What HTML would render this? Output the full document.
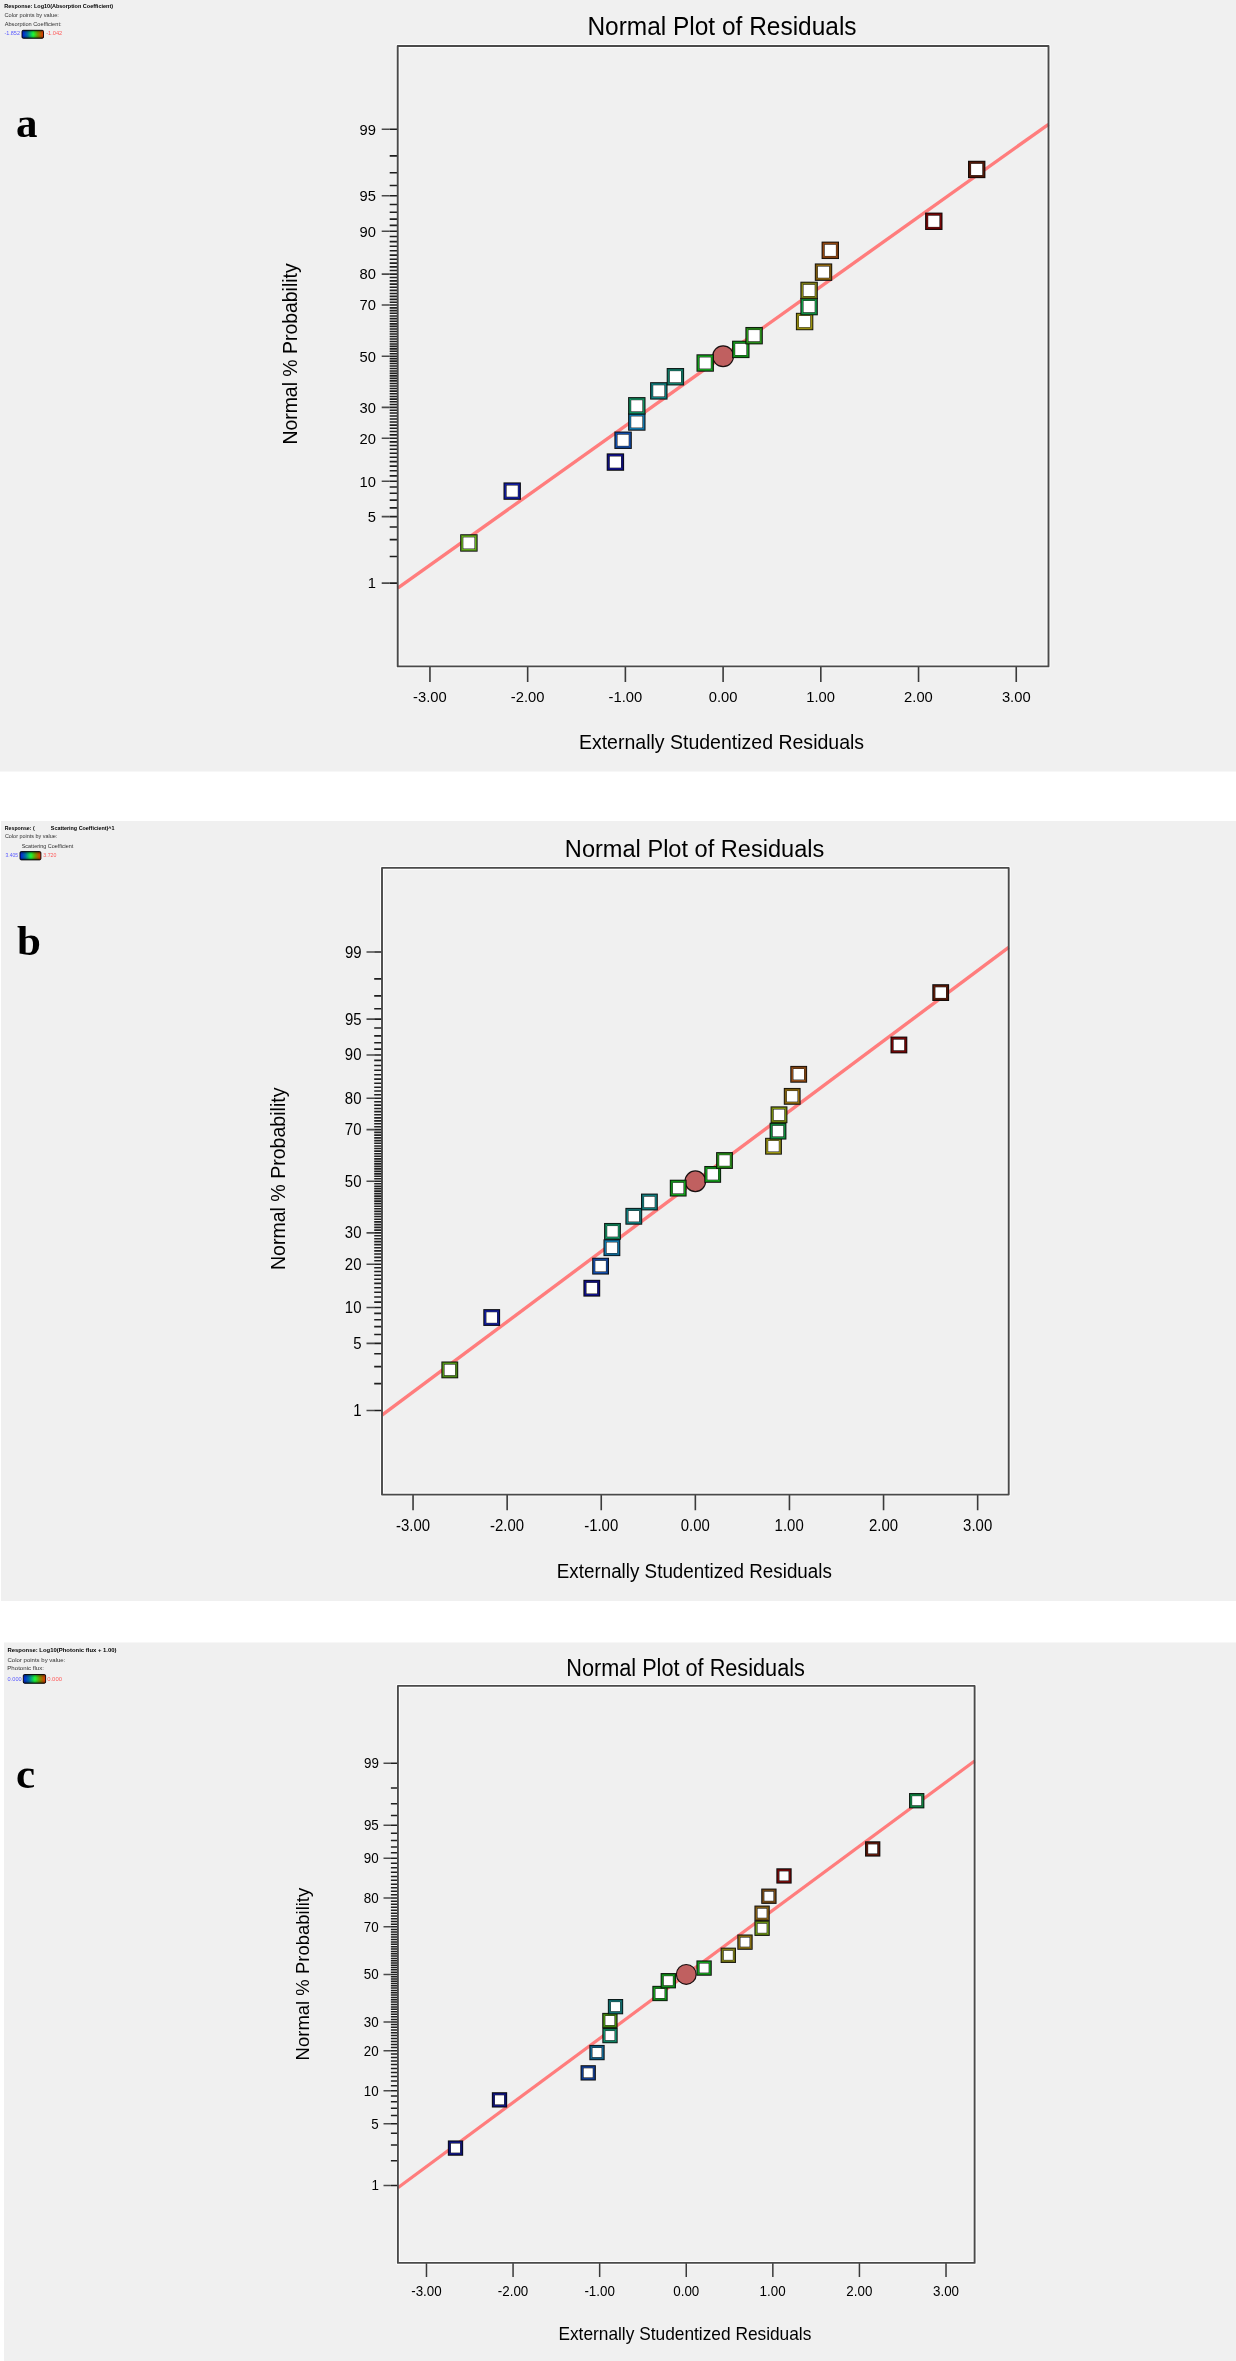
<!DOCTYPE html>
<html><head><meta charset="utf-8"><title>Normal Plot of Residuals</title>
<style>html,body{margin:0;padding:0;background:#fff;width:1236px;height:2361px;overflow:hidden}text{font-kerning:none;font-variant-ligatures:none}</style></head>
<body>
<svg width="1236" height="2361" viewBox="0 0 1236 2361" style="display:block;font-kerning:none;font-variant-ligatures:none;will-change:transform">
<defs><linearGradient id="hg" x1="0" x2="1" y1="0" y2="0"><stop offset="0" stop-color="#0018e0"/><stop offset="0.25" stop-color="#0070a8"/><stop offset="0.52" stop-color="#18ff38"/><stop offset="0.72" stop-color="#70a000"/><stop offset="1" stop-color="#f02800"/></linearGradient><linearGradient id="vg" x1="0" x2="0" y1="0" y2="1"><stop offset="0" stop-color="#000" stop-opacity="0.55"/><stop offset="0.3" stop-color="#000" stop-opacity="0.05"/><stop offset="0.55" stop-color="#000" stop-opacity="0"/><stop offset="0.75" stop-color="#000" stop-opacity="0.1"/><stop offset="1" stop-color="#000" stop-opacity="0.6"/></linearGradient></defs>
<rect x="0" y="0" width="1236" height="2361" fill="#ffffff"/>
<rect x="0" y="0" width="1236" height="771.5" fill="#f0f0f0"/>
<text transform="translate(4.33 8.30) scale(0.9717 1)" font-size="5.67" font-family='"Liberation Sans", sans-serif' font-weight="bold" fill="#000">Response: Log10(Absorption Coefficient)</text>
<text transform="translate(4.41 16.80) scale(0.9767 1)" font-size="5.81" font-family='"Liberation Sans", sans-serif' font-weight="normal" fill="#303030">Color points by value:</text>
<text transform="translate(4.69 26.40) scale(0.9982 1)" font-size="5.67" font-family='"Liberation Sans", sans-serif' font-weight="normal" fill="#303030">Absorption Coefficient:</text>
<text transform="translate(4.46 34.70) scale(1.0459 1)" font-size="5.23" font-family='"Liberation Sans", sans-serif' font-weight="normal" fill="#5a5aff">-1.852</text>
<rect x="22.00" y="30.30" width="21.50" height="8.00" rx="1.3" fill="url(#hg)" stroke="#000" stroke-width="0.9"/><rect x="22.00" y="30.30" width="21.50" height="8.00" rx="1.3" fill="url(#vg)"/>
<text transform="translate(46.15 34.70) scale(1.0808 1)" font-size="5.23" font-family='"Liberation Sans", sans-serif' font-weight="normal" fill="#ff5a5a">-1.042</text>

<text transform="translate(587.39 35.00) scale(0.9842 1)" font-size="24.86" font-family='"Liberation Sans", sans-serif' font-weight="normal" fill="#000">Normal Plot of Residuals</text>
<text transform="translate(578.90 748.90) scale(0.9730 1)" font-size="20.06" font-family='"Liberation Sans", sans-serif' font-weight="normal" fill="#000">Externally Studentized Residuals</text>
<text transform="translate(296.70 444.59) rotate(-90) scale(0.9410 1)" font-size="20.64" font-family='"Liberation Sans", sans-serif' fill="#000">Normal % Probability</text>
<rect x="397.70" y="46.00" width="650.80" height="620.40" fill="none" stroke="#ffffff" stroke-opacity="0.85" stroke-width="4" stroke-linejoin="round"/>
<path d="M381.70 583.13H389.70M381.70 516.65H389.70M381.70 481.21H389.70M381.70 438.30H389.70M381.70 407.35H389.70M381.70 356.20H389.70M381.70 305.05H389.70M381.70 274.10H389.70M381.70 231.19H389.70M381.70 195.75H389.70M381.70 129.27H389.70" stroke="#4a4a4a" stroke-width="1.60" fill="none"/>
<path d="M389.70 583.13H397.70M389.70 556.54H397.70M389.70 539.67H397.70M389.70 526.97H397.70M389.70 516.65H397.70M389.70 507.86H397.70M389.70 500.16H397.70M389.70 493.26H397.70M389.70 486.99H397.70M389.70 481.21H397.70M389.70 475.84H397.70M389.70 470.82H397.70M389.70 466.08H397.70M389.70 461.58H397.70M389.70 457.30H397.70M389.70 453.21H397.70M389.70 449.28H397.70M389.70 445.49H397.70M389.70 441.84H397.70M389.70 438.30H397.70M389.70 434.86H397.70M389.70 431.53H397.70M389.70 428.27H397.70M389.70 425.10H397.70M389.70 421.99H397.70M389.70 418.96H397.70M389.70 415.98H397.70M389.70 413.05H397.70M389.70 410.18H397.70M389.70 407.35H397.70M389.70 404.57H397.70M389.70 401.82H397.70M389.70 399.11H397.70M389.70 396.43H397.70M389.70 393.79H397.70M389.70 391.17H397.70M389.70 388.57H397.70M389.70 386.00H397.70M389.70 383.45H397.70M389.70 380.91H397.70M389.70 378.40H397.70M389.70 375.89H397.70M389.70 373.40H397.70M389.70 370.93H397.70M389.70 368.46H397.70M389.70 366.00H397.70M389.70 363.54H397.70M389.70 361.09H397.70M389.70 358.65H397.70M389.70 356.20H397.70M389.70 353.75H397.70M389.70 351.31H397.70M389.70 348.86H397.70M389.70 346.40H397.70M389.70 343.94H397.70M389.70 341.47H397.70M389.70 339.00H397.70M389.70 336.51H397.70M389.70 334.00H397.70M389.70 331.49H397.70M389.70 328.95H397.70M389.70 326.40H397.70M389.70 323.83H397.70M389.70 321.23H397.70M389.70 318.61H397.70M389.70 315.97H397.70M389.70 313.29H397.70M389.70 310.58H397.70M389.70 307.83H397.70M389.70 305.05H397.70M389.70 302.22H397.70M389.70 299.35H397.70M389.70 296.42H397.70M389.70 293.44H397.70M389.70 290.41H397.70M389.70 287.30H397.70M389.70 284.13H397.70M389.70 280.87H397.70M389.70 277.54H397.70M389.70 274.10H397.70M389.70 270.56H397.70M389.70 266.91H397.70M389.70 263.12H397.70M389.70 259.19H397.70M389.70 255.10H397.70M389.70 250.82H397.70M389.70 246.32H397.70M389.70 241.58H397.70M389.70 236.56H397.70M389.70 231.19H397.70M389.70 225.41H397.70M389.70 219.14H397.70M389.70 212.24H397.70M389.70 204.54H397.70M389.70 195.75H397.70M389.70 185.43H397.70M389.70 172.73H397.70M389.70 155.86H397.70M389.70 129.27H397.70" stroke="#1e1e1e" stroke-width="1.60" fill="none"/>
<text transform="translate(367.80 588.48) scale(0.9500 1)" font-size="15.55" font-family='"Liberation Sans", sans-serif' font-weight="normal" fill="#000">1</text>
<text transform="translate(367.70 522.00) scale(0.9500 1)" font-size="15.55" font-family='"Liberation Sans", sans-serif' font-weight="normal" fill="#000">5</text>
<text transform="translate(359.44 486.56) scale(0.9500 1)" font-size="15.55" font-family='"Liberation Sans", sans-serif' font-weight="normal" fill="#000">10</text>
<text transform="translate(359.44 443.65) scale(0.9500 1)" font-size="15.55" font-family='"Liberation Sans", sans-serif' font-weight="normal" fill="#000">20</text>
<text transform="translate(359.44 412.70) scale(0.9500 1)" font-size="15.55" font-family='"Liberation Sans", sans-serif' font-weight="normal" fill="#000">30</text>
<text transform="translate(359.44 361.55) scale(0.9500 1)" font-size="15.55" font-family='"Liberation Sans", sans-serif' font-weight="normal" fill="#000">50</text>
<text transform="translate(359.44 310.40) scale(0.9500 1)" font-size="15.55" font-family='"Liberation Sans", sans-serif' font-weight="normal" fill="#000">70</text>
<text transform="translate(359.44 279.45) scale(0.9500 1)" font-size="15.55" font-family='"Liberation Sans", sans-serif' font-weight="normal" fill="#000">80</text>
<text transform="translate(359.44 236.54) scale(0.9500 1)" font-size="15.55" font-family='"Liberation Sans", sans-serif' font-weight="normal" fill="#000">90</text>
<text transform="translate(359.49 201.10) scale(0.9500 1)" font-size="15.55" font-family='"Liberation Sans", sans-serif' font-weight="normal" fill="#000">95</text>
<text transform="translate(359.57 134.62) scale(0.9500 1)" font-size="15.55" font-family='"Liberation Sans", sans-serif' font-weight="normal" fill="#000">99</text>
<text transform="translate(413.07 702.00) scale(0.9500 1)" font-size="15.55" font-family='"Liberation Sans", sans-serif' font-weight="normal" fill="#000">-3.00</text>
<text transform="translate(510.79 702.00) scale(0.9500 1)" font-size="15.55" font-family='"Liberation Sans", sans-serif' font-weight="normal" fill="#000">-2.00</text>
<text transform="translate(608.50 702.00) scale(0.9500 1)" font-size="15.55" font-family='"Liberation Sans", sans-serif' font-weight="normal" fill="#000">-1.00</text>
<text transform="translate(708.72 702.00) scale(0.9500 1)" font-size="15.55" font-family='"Liberation Sans", sans-serif' font-weight="normal" fill="#000">0.00</text>
<text transform="translate(806.17 702.00) scale(0.9500 1)" font-size="15.55" font-family='"Liberation Sans", sans-serif' font-weight="normal" fill="#000">1.00</text>
<text transform="translate(904.07 702.00) scale(0.9500 1)" font-size="15.55" font-family='"Liberation Sans", sans-serif' font-weight="normal" fill="#000">2.00</text>
<text transform="translate(1001.88 702.00) scale(0.9500 1)" font-size="15.55" font-family='"Liberation Sans", sans-serif' font-weight="normal" fill="#000">3.00</text>
<path d="M429.95 666.40V682.00M527.66 666.40V682.00M625.38 666.40V682.00M723.10 666.40V682.00M820.82 666.40V682.00M918.54 666.40V682.00M1016.25 666.40V682.00" stroke="#3a3a3a" stroke-width="1.60" fill="none"/>
<line x1="397.70" y1="588.13" x2="1048.50" y2="124.27" stroke="#ff7d7d" stroke-width="3.40"/>
<circle cx="723.10" cy="356.20" r="10.40" fill="#c06060" stroke="#1a1010" stroke-width="1.2"/>
<rect x="460.20" y="534.25" width="17.40" height="17.40" fill="#0a0a0a"/><rect x="461.00" y="535.05" width="15.80" height="15.80" fill="#4a8014"/><rect x="462.10" y="536.15" width="13.60" height="13.60" fill="#75c327"/><rect x="462.80" y="536.85" width="12.20" height="12.20" fill="#141414"/><rect x="463.30" y="537.35" width="11.20" height="11.20" fill="#ffffff"/>
<rect x="503.50" y="482.41" width="17.40" height="17.40" fill="#0a0a0a"/><rect x="504.30" y="483.21" width="15.80" height="15.80" fill="#0c1478"/><rect x="505.40" y="484.31" width="13.60" height="13.60" fill="#1b27b8"/><rect x="506.10" y="485.01" width="12.20" height="12.20" fill="#141414"/><rect x="506.60" y="485.51" width="11.20" height="11.20" fill="#ffffff"/>
<rect x="606.70" y="453.37" width="17.40" height="17.40" fill="#0a0a0a"/><rect x="607.50" y="454.17" width="15.80" height="15.80" fill="#0a0a68"/><rect x="608.60" y="455.27" width="13.60" height="13.60" fill="#1818a0"/><rect x="609.30" y="455.97" width="12.20" height="12.20" fill="#141414"/><rect x="609.80" y="456.47" width="11.20" height="11.20" fill="#ffffff"/>
<rect x="614.40" y="431.55" width="17.40" height="17.40" fill="#0a0a0a"/><rect x="615.20" y="432.35" width="15.80" height="15.80" fill="#0c3a82"/><rect x="616.30" y="433.45" width="13.60" height="13.60" fill="#1b5ec6"/><rect x="617.00" y="434.15" width="12.20" height="12.20" fill="#141414"/><rect x="617.50" y="434.65" width="11.20" height="11.20" fill="#ffffff"/>
<rect x="628.10" y="413.29" width="17.40" height="17.40" fill="#0a0a0a"/><rect x="628.90" y="414.09" width="15.80" height="15.80" fill="#0c5a82"/><rect x="630.00" y="415.19" width="13.60" height="13.60" fill="#1b8cc6"/><rect x="630.70" y="415.89" width="12.20" height="12.20" fill="#141414"/><rect x="631.20" y="416.39" width="11.20" height="11.20" fill="#ffffff"/>
<rect x="628.10" y="397.10" width="17.40" height="17.40" fill="#0a0a0a"/><rect x="628.90" y="397.90" width="15.80" height="15.80" fill="#0c6c48"/><rect x="630.00" y="399.00" width="13.60" height="13.60" fill="#1ba672"/><rect x="630.70" y="399.70" width="12.20" height="12.20" fill="#141414"/><rect x="631.20" y="400.20" width="11.20" height="11.20" fill="#ffffff"/>
<rect x="650.10" y="382.18" width="17.40" height="17.40" fill="#0a0a0a"/><rect x="650.90" y="382.98" width="15.80" height="15.80" fill="#0c5e5e"/><rect x="652.00" y="384.08" width="13.60" height="13.60" fill="#1b9292"/><rect x="652.70" y="384.78" width="12.20" height="12.20" fill="#141414"/><rect x="653.20" y="385.28" width="11.20" height="11.20" fill="#ffffff"/>
<rect x="666.70" y="368.03" width="17.40" height="17.40" fill="#0a0a0a"/><rect x="667.50" y="368.83" width="15.80" height="15.80" fill="#0c6454"/><rect x="668.60" y="369.93" width="13.60" height="13.60" fill="#1b9b83"/><rect x="669.30" y="370.63" width="12.20" height="12.20" fill="#141414"/><rect x="669.80" y="371.13" width="11.20" height="11.20" fill="#ffffff"/>
<rect x="696.50" y="354.30" width="17.40" height="17.40" fill="#0a0a0a"/><rect x="697.30" y="355.10" width="15.80" height="15.80" fill="#0e7814"/><rect x="698.40" y="356.20" width="13.60" height="13.60" fill="#1eb827"/><rect x="699.10" y="356.90" width="12.20" height="12.20" fill="#141414"/><rect x="699.60" y="357.40" width="11.20" height="11.20" fill="#ffffff"/>
<rect x="732.10" y="340.70" width="17.40" height="17.40" fill="#0a0a0a"/><rect x="732.90" y="341.50" width="15.80" height="15.80" fill="#0e7814"/><rect x="734.00" y="342.60" width="13.60" height="13.60" fill="#1eb827"/><rect x="734.70" y="343.30" width="12.20" height="12.20" fill="#141414"/><rect x="735.20" y="343.80" width="11.20" height="11.20" fill="#ffffff"/>
<rect x="745.40" y="326.97" width="17.40" height="17.40" fill="#0a0a0a"/><rect x="746.20" y="327.77" width="15.80" height="15.80" fill="#1e7012"/><rect x="747.30" y="328.87" width="13.60" height="13.60" fill="#35ac24"/><rect x="748.00" y="329.57" width="12.20" height="12.20" fill="#141414"/><rect x="748.50" y="330.07" width="11.20" height="11.20" fill="#ffffff"/>
<rect x="795.90" y="312.82" width="17.40" height="17.40" fill="#0a0a0a"/><rect x="796.70" y="313.62" width="15.80" height="15.80" fill="#827a0a"/><rect x="797.80" y="314.72" width="13.60" height="13.60" fill="#c6ba18"/><rect x="798.50" y="315.42" width="12.20" height="12.20" fill="#141414"/><rect x="799.00" y="315.92" width="11.20" height="11.20" fill="#ffffff"/>
<rect x="800.40" y="297.90" width="17.40" height="17.40" fill="#0a0a0a"/><rect x="801.20" y="298.70" width="15.80" height="15.80" fill="#0c7434"/><rect x="802.30" y="299.80" width="13.60" height="13.60" fill="#1bb255"/><rect x="803.00" y="300.50" width="12.20" height="12.20" fill="#141414"/><rect x="803.50" y="301.00" width="11.20" height="11.20" fill="#ffffff"/>
<rect x="800.40" y="281.71" width="17.40" height="17.40" fill="#0a0a0a"/><rect x="801.20" y="282.51" width="15.80" height="15.80" fill="#646410"/><rect x="802.30" y="283.61" width="13.60" height="13.60" fill="#9b9b21"/><rect x="803.00" y="284.31" width="12.20" height="12.20" fill="#141414"/><rect x="803.50" y="284.81" width="11.20" height="11.20" fill="#ffffff"/>
<rect x="814.80" y="263.45" width="17.40" height="17.40" fill="#0a0a0a"/><rect x="815.60" y="264.25" width="15.80" height="15.80" fill="#6a4c0a"/><rect x="816.70" y="265.35" width="13.60" height="13.60" fill="#a37818"/><rect x="817.40" y="266.05" width="12.20" height="12.20" fill="#141414"/><rect x="817.90" y="266.55" width="11.20" height="11.20" fill="#ffffff"/>
<rect x="821.60" y="241.63" width="17.40" height="17.40" fill="#0a0a0a"/><rect x="822.40" y="242.43" width="15.80" height="15.80" fill="#74380c"/><rect x="823.50" y="243.53" width="13.60" height="13.60" fill="#b25b1b"/><rect x="824.20" y="244.23" width="12.20" height="12.20" fill="#141414"/><rect x="824.70" y="244.73" width="11.20" height="11.20" fill="#ffffff"/>
<rect x="925.10" y="212.59" width="17.40" height="17.40" fill="#0a0a0a"/><rect x="925.90" y="213.39" width="15.80" height="15.80" fill="#5c0202"/><rect x="927.00" y="214.49" width="13.60" height="13.60" fill="#8f0c0c"/><rect x="927.70" y="215.19" width="12.20" height="12.20" fill="#141414"/><rect x="928.20" y="215.69" width="11.20" height="11.20" fill="#ffffff"/>
<rect x="968.00" y="160.75" width="17.40" height="17.40" fill="#0a0a0a"/><rect x="968.80" y="161.55" width="15.80" height="15.80" fill="#441204"/><rect x="969.90" y="162.65" width="13.60" height="13.60" fill="#6c240f"/><rect x="970.60" y="163.35" width="12.20" height="12.20" fill="#141414"/><rect x="971.10" y="163.85" width="11.20" height="11.20" fill="#ffffff"/>
<rect x="397.70" y="46.00" width="650.80" height="620.40" fill="none" stroke="#4a4a4a" stroke-width="1.9" stroke-linejoin="round"/>
<rect x="1" y="821" width="1235" height="780" fill="#f0f0f0"/>
<text transform="translate(4.85 829.60) scale(0.9202 1)" font-size="5.67" font-family='"Liberation Sans", sans-serif' font-weight="bold" fill="#000">Response: (</text>
<text transform="translate(50.84 829.60) scale(0.9532 1)" font-size="5.67" font-family='"Liberation Sans", sans-serif' font-weight="bold" fill="#000">Scattering Coefficient)^1</text>
<text transform="translate(4.92 838.10) scale(0.9404 1)" font-size="5.81" font-family='"Liberation Sans", sans-serif' font-weight="normal" fill="#303030">Color points by value:</text>
<text transform="translate(21.75 848.00) scale(0.9593 1)" font-size="5.67" font-family='"Liberation Sans", sans-serif' font-weight="normal" fill="#303030">Scattering Coefficient</text>
<text transform="translate(5.51 856.50) scale(0.9118 1)" font-size="5.52" font-family='"Liberation Sans", sans-serif' font-weight="normal" fill="#5a5aff">3.405</text>
<rect x="20.00" y="851.60" width="20.90" height="8.30" rx="1.3" fill="url(#hg)" stroke="#000" stroke-width="0.9"/><rect x="20.00" y="851.60" width="20.90" height="8.30" rx="1.3" fill="url(#vg)"/>
<text transform="translate(43.30 856.50) scale(0.9481 1)" font-size="5.52" font-family='"Liberation Sans", sans-serif' font-weight="normal" fill="#ff5a5a">3.720</text>

<text transform="translate(564.87 856.50) scale(0.9657 1)" font-size="24.42" font-family='"Liberation Sans", sans-serif' font-weight="normal" fill="#000">Normal Plot of Residuals</text>
<text transform="translate(556.76 1578.10) scale(0.9322 1)" font-size="20.20" font-family='"Liberation Sans", sans-serif' font-weight="normal" fill="#000">Externally Studentized Residuals</text>
<text transform="translate(285.40 1270.10) rotate(-90) scale(0.9412 1)" font-size="20.79" font-family='"Liberation Sans", sans-serif' fill="#000">Normal % Probability</text>
<rect x="382.00" y="867.90" width="626.70" height="626.70" fill="none" stroke="#ffffff" stroke-opacity="0.85" stroke-width="4" stroke-linejoin="round"/>
<path d="M366.50 1410.48H374.20M366.50 1343.33H374.20M366.50 1307.53H374.20M366.50 1264.18H374.20M366.50 1232.92H374.20M366.50 1181.25H374.20M366.50 1129.58H374.20M366.50 1098.32H374.20M366.50 1054.97H374.20M366.50 1019.17H374.20M366.50 952.02H374.20" stroke="#4a4a4a" stroke-width="1.60" fill="none"/>
<path d="M374.20 1410.48H382.00M374.20 1383.62H382.00M374.20 1366.58H382.00M374.20 1353.76H382.00M374.20 1343.33H382.00M374.20 1334.45H382.00M374.20 1326.67H382.00M374.20 1319.70H382.00M374.20 1313.36H382.00M374.20 1307.53H382.00M374.20 1302.11H382.00M374.20 1297.03H382.00M374.20 1292.24H382.00M374.20 1287.70H382.00M374.20 1283.38H382.00M374.20 1279.24H382.00M374.20 1275.27H382.00M374.20 1271.45H382.00M374.20 1267.76H382.00M374.20 1264.18H382.00M374.20 1260.71H382.00M374.20 1257.34H382.00M374.20 1254.05H382.00M374.20 1250.85H382.00M374.20 1247.71H382.00M374.20 1244.64H382.00M374.20 1241.64H382.00M374.20 1238.68H382.00M374.20 1235.78H382.00M374.20 1232.92H382.00M374.20 1230.11H382.00M374.20 1227.34H382.00M374.20 1224.60H382.00M374.20 1221.89H382.00M374.20 1219.22H382.00M374.20 1216.57H382.00M374.20 1213.95H382.00M374.20 1211.35H382.00M374.20 1208.77H382.00M374.20 1206.21H382.00M374.20 1203.67H382.00M374.20 1201.14H382.00M374.20 1198.63H382.00M374.20 1196.13H382.00M374.20 1193.63H382.00M374.20 1191.15H382.00M374.20 1188.67H382.00M374.20 1186.19H382.00M374.20 1183.72H382.00M374.20 1181.25H382.00M374.20 1178.78H382.00M374.20 1176.31H382.00M374.20 1173.83H382.00M374.20 1171.35H382.00M374.20 1168.87H382.00M374.20 1166.37H382.00M374.20 1163.87H382.00M374.20 1161.36H382.00M374.20 1158.83H382.00M374.20 1156.29H382.00M374.20 1153.73H382.00M374.20 1151.15H382.00M374.20 1148.55H382.00M374.20 1145.93H382.00M374.20 1143.28H382.00M374.20 1140.61H382.00M374.20 1137.90H382.00M374.20 1135.16H382.00M374.20 1132.39H382.00M374.20 1129.58H382.00M374.20 1126.72H382.00M374.20 1123.82H382.00M374.20 1120.86H382.00M374.20 1117.86H382.00M374.20 1114.79H382.00M374.20 1111.65H382.00M374.20 1108.45H382.00M374.20 1105.16H382.00M374.20 1101.79H382.00M374.20 1098.32H382.00M374.20 1094.74H382.00M374.20 1091.05H382.00M374.20 1087.23H382.00M374.20 1083.26H382.00M374.20 1079.12H382.00M374.20 1074.80H382.00M374.20 1070.26H382.00M374.20 1065.47H382.00M374.20 1060.39H382.00M374.20 1054.97H382.00M374.20 1049.14H382.00M374.20 1042.80H382.00M374.20 1035.83H382.00M374.20 1028.05H382.00M374.20 1019.17H382.00M374.20 1008.74H382.00M374.20 995.92H382.00M374.20 978.88H382.00M374.20 952.02H382.00" stroke="#1e1e1e" stroke-width="1.60" fill="none"/>
<text transform="translate(353.32 1415.98) scale(0.9350 1)" font-size="15.99" font-family='"Liberation Sans", sans-serif' font-weight="normal" fill="#000">1</text>
<text transform="translate(353.21 1348.83) scale(0.9350 1)" font-size="15.99" font-family='"Liberation Sans", sans-serif' font-weight="normal" fill="#000">5</text>
<text transform="translate(344.86 1313.03) scale(0.9350 1)" font-size="15.99" font-family='"Liberation Sans", sans-serif' font-weight="normal" fill="#000">10</text>
<text transform="translate(344.86 1269.68) scale(0.9350 1)" font-size="15.99" font-family='"Liberation Sans", sans-serif' font-weight="normal" fill="#000">20</text>
<text transform="translate(344.86 1238.42) scale(0.9350 1)" font-size="15.99" font-family='"Liberation Sans", sans-serif' font-weight="normal" fill="#000">30</text>
<text transform="translate(344.86 1186.75) scale(0.9350 1)" font-size="15.99" font-family='"Liberation Sans", sans-serif' font-weight="normal" fill="#000">50</text>
<text transform="translate(344.86 1135.08) scale(0.9350 1)" font-size="15.99" font-family='"Liberation Sans", sans-serif' font-weight="normal" fill="#000">70</text>
<text transform="translate(344.86 1103.82) scale(0.9350 1)" font-size="15.99" font-family='"Liberation Sans", sans-serif' font-weight="normal" fill="#000">80</text>
<text transform="translate(344.86 1060.47) scale(0.9350 1)" font-size="15.99" font-family='"Liberation Sans", sans-serif' font-weight="normal" fill="#000">90</text>
<text transform="translate(344.90 1024.67) scale(0.9350 1)" font-size="15.99" font-family='"Liberation Sans", sans-serif' font-weight="normal" fill="#000">95</text>
<text transform="translate(344.98 957.52) scale(0.9350 1)" font-size="15.99" font-family='"Liberation Sans", sans-serif' font-weight="normal" fill="#000">99</text>
<text transform="translate(395.98 1530.60) scale(0.9350 1)" font-size="15.99" font-family='"Liberation Sans", sans-serif' font-weight="normal" fill="#000">-3.00</text>
<text transform="translate(490.07 1530.60) scale(0.9350 1)" font-size="15.99" font-family='"Liberation Sans", sans-serif' font-weight="normal" fill="#000">-2.00</text>
<text transform="translate(584.17 1530.60) scale(0.9350 1)" font-size="15.99" font-family='"Liberation Sans", sans-serif' font-weight="normal" fill="#000">-1.00</text>
<text transform="translate(680.80 1530.60) scale(0.9350 1)" font-size="15.99" font-family='"Liberation Sans", sans-serif' font-weight="normal" fill="#000">0.00</text>
<text transform="translate(774.62 1530.60) scale(0.9350 1)" font-size="15.99" font-family='"Liberation Sans", sans-serif' font-weight="normal" fill="#000">1.00</text>
<text transform="translate(868.92 1530.60) scale(0.9350 1)" font-size="15.99" font-family='"Liberation Sans", sans-serif' font-weight="normal" fill="#000">2.00</text>
<text transform="translate(963.11 1530.60) scale(0.9350 1)" font-size="15.99" font-family='"Liberation Sans", sans-serif' font-weight="normal" fill="#000">3.00</text>
<path d="M413.05 1494.60V1510.20M507.15 1494.60V1510.20M601.25 1494.60V1510.20M695.35 1494.60V1510.20M789.45 1494.60V1510.20M883.55 1494.60V1510.20M977.65 1494.60V1510.20" stroke="#3a3a3a" stroke-width="1.60" fill="none"/>
<line x1="382.00" y1="1415.04" x2="1008.70" y2="947.46" stroke="#ff7d7d" stroke-width="3.40"/>
<circle cx="695.35" cy="1181.25" r="10.30" fill="#c06060" stroke="#1a1010" stroke-width="1.2"/>
<rect x="441.40" y="1361.50" width="16.80" height="16.80" fill="#0a0a0a"/><rect x="442.20" y="1362.30" width="15.20" height="15.20" fill="#3e7010"/><rect x="443.30" y="1363.40" width="13.00" height="13.00" fill="#63ac21"/><rect x="444.00" y="1364.10" width="11.60" height="11.60" fill="#141414"/><rect x="444.50" y="1364.60" width="10.60" height="10.60" fill="#ffffff"/>
<rect x="483.30" y="1309.13" width="16.80" height="16.80" fill="#0a0a0a"/><rect x="484.10" y="1309.93" width="15.20" height="15.20" fill="#0c1478"/><rect x="485.20" y="1311.03" width="13.00" height="13.00" fill="#1b27b8"/><rect x="485.90" y="1311.73" width="11.60" height="11.60" fill="#141414"/><rect x="486.40" y="1312.23" width="10.60" height="10.60" fill="#ffffff"/>
<rect x="583.40" y="1279.80" width="16.80" height="16.80" fill="#0a0a0a"/><rect x="584.20" y="1280.60" width="15.20" height="15.20" fill="#0a0a68"/><rect x="585.30" y="1281.70" width="13.00" height="13.00" fill="#1818a0"/><rect x="586.00" y="1282.40" width="11.60" height="11.60" fill="#141414"/><rect x="586.50" y="1282.90" width="10.60" height="10.60" fill="#ffffff"/>
<rect x="592.20" y="1257.75" width="16.80" height="16.80" fill="#0a0a0a"/><rect x="593.00" y="1258.55" width="15.20" height="15.20" fill="#0c3a82"/><rect x="594.10" y="1259.65" width="13.00" height="13.00" fill="#1b5ec6"/><rect x="594.80" y="1260.35" width="11.60" height="11.60" fill="#141414"/><rect x="595.30" y="1260.85" width="10.60" height="10.60" fill="#ffffff"/>
<rect x="603.50" y="1239.31" width="16.80" height="16.80" fill="#0a0a0a"/><rect x="604.30" y="1240.11" width="15.20" height="15.20" fill="#0c5a82"/><rect x="605.40" y="1241.21" width="13.00" height="13.00" fill="#1b8cc6"/><rect x="606.10" y="1241.91" width="11.60" height="11.60" fill="#141414"/><rect x="606.60" y="1242.41" width="10.60" height="10.60" fill="#ffffff"/>
<rect x="604.10" y="1222.96" width="16.80" height="16.80" fill="#0a0a0a"/><rect x="604.90" y="1223.76" width="15.20" height="15.20" fill="#0c6c48"/><rect x="606.00" y="1224.86" width="13.00" height="13.00" fill="#1ba672"/><rect x="606.70" y="1225.56" width="11.60" height="11.60" fill="#141414"/><rect x="607.20" y="1226.06" width="10.60" height="10.60" fill="#ffffff"/>
<rect x="625.40" y="1207.88" width="16.80" height="16.80" fill="#0a0a0a"/><rect x="626.20" y="1208.68" width="15.20" height="15.20" fill="#0c5e5e"/><rect x="627.30" y="1209.78" width="13.00" height="13.00" fill="#1b9292"/><rect x="628.00" y="1210.48" width="11.60" height="11.60" fill="#141414"/><rect x="628.50" y="1210.98" width="10.60" height="10.60" fill="#ffffff"/>
<rect x="641.00" y="1193.59" width="16.80" height="16.80" fill="#0a0a0a"/><rect x="641.80" y="1194.39" width="15.20" height="15.20" fill="#0c6060"/><rect x="642.90" y="1195.49" width="13.00" height="13.00" fill="#1b9595"/><rect x="643.60" y="1196.19" width="11.60" height="11.60" fill="#141414"/><rect x="644.10" y="1196.69" width="10.60" height="10.60" fill="#ffffff"/>
<rect x="669.80" y="1179.72" width="16.80" height="16.80" fill="#0a0a0a"/><rect x="670.60" y="1180.52" width="15.20" height="15.20" fill="#0e7814"/><rect x="671.70" y="1181.62" width="13.00" height="13.00" fill="#1eb827"/><rect x="672.40" y="1182.32" width="11.60" height="11.60" fill="#141414"/><rect x="672.90" y="1182.82" width="10.60" height="10.60" fill="#ffffff"/>
<rect x="704.30" y="1165.98" width="16.80" height="16.80" fill="#0a0a0a"/><rect x="705.10" y="1166.78" width="15.20" height="15.20" fill="#0e7814"/><rect x="706.20" y="1167.88" width="13.00" height="13.00" fill="#1eb827"/><rect x="706.90" y="1168.58" width="11.60" height="11.60" fill="#141414"/><rect x="707.40" y="1169.08" width="10.60" height="10.60" fill="#ffffff"/>
<rect x="716.10" y="1152.11" width="16.80" height="16.80" fill="#0a0a0a"/><rect x="716.90" y="1152.91" width="15.20" height="15.20" fill="#1e7012"/><rect x="718.00" y="1154.01" width="13.00" height="13.00" fill="#35ac24"/><rect x="718.70" y="1154.71" width="11.60" height="11.60" fill="#141414"/><rect x="719.20" y="1155.21" width="10.60" height="10.60" fill="#ffffff"/>
<rect x="765.10" y="1137.82" width="16.80" height="16.80" fill="#0a0a0a"/><rect x="765.90" y="1138.62" width="15.20" height="15.20" fill="#74700e"/><rect x="767.00" y="1139.72" width="13.00" height="13.00" fill="#b2ac1e"/><rect x="767.70" y="1140.42" width="11.60" height="11.60" fill="#141414"/><rect x="768.20" y="1140.92" width="10.60" height="10.60" fill="#ffffff"/>
<rect x="769.60" y="1122.74" width="16.80" height="16.80" fill="#0a0a0a"/><rect x="770.40" y="1123.54" width="15.20" height="15.20" fill="#0c6e2e"/><rect x="771.50" y="1124.64" width="13.00" height="13.00" fill="#1ba94c"/><rect x="772.20" y="1125.34" width="11.60" height="11.60" fill="#141414"/><rect x="772.70" y="1125.84" width="10.60" height="10.60" fill="#ffffff"/>
<rect x="770.60" y="1106.39" width="16.80" height="16.80" fill="#0a0a0a"/><rect x="771.40" y="1107.19" width="15.20" height="15.20" fill="#5e6e0a"/><rect x="772.50" y="1108.29" width="13.00" height="13.00" fill="#92a918"/><rect x="773.20" y="1108.99" width="11.60" height="11.60" fill="#141414"/><rect x="773.70" y="1109.49" width="10.60" height="10.60" fill="#ffffff"/>
<rect x="783.80" y="1087.95" width="16.80" height="16.80" fill="#0a0a0a"/><rect x="784.60" y="1088.75" width="15.20" height="15.20" fill="#6e520a"/><rect x="785.70" y="1089.85" width="13.00" height="13.00" fill="#a98018"/><rect x="786.40" y="1090.55" width="11.60" height="11.60" fill="#141414"/><rect x="786.90" y="1091.05" width="10.60" height="10.60" fill="#ffffff"/>
<rect x="790.30" y="1065.90" width="16.80" height="16.80" fill="#0a0a0a"/><rect x="791.10" y="1066.70" width="15.20" height="15.20" fill="#703a10"/><rect x="792.20" y="1067.80" width="13.00" height="13.00" fill="#ac5e21"/><rect x="792.90" y="1068.50" width="11.60" height="11.60" fill="#141414"/><rect x="793.40" y="1069.00" width="10.60" height="10.60" fill="#ffffff"/>
<rect x="890.50" y="1036.57" width="16.80" height="16.80" fill="#0a0a0a"/><rect x="891.30" y="1037.37" width="15.20" height="15.20" fill="#5c0202"/><rect x="892.40" y="1038.47" width="13.00" height="13.00" fill="#8f0c0c"/><rect x="893.10" y="1039.17" width="11.60" height="11.60" fill="#141414"/><rect x="893.60" y="1039.67" width="10.60" height="10.60" fill="#ffffff"/>
<rect x="932.30" y="984.20" width="16.80" height="16.80" fill="#0a0a0a"/><rect x="933.10" y="985.00" width="15.20" height="15.20" fill="#441204"/><rect x="934.20" y="986.10" width="13.00" height="13.00" fill="#6c240f"/><rect x="934.90" y="986.80" width="11.60" height="11.60" fill="#141414"/><rect x="935.40" y="987.30" width="10.60" height="10.60" fill="#ffffff"/>
<rect x="382.00" y="867.90" width="626.70" height="626.70" fill="none" stroke="#4a4a4a" stroke-width="1.9" stroke-linejoin="round"/>
<rect x="4" y="1642.5" width="1232" height="718.5" fill="#f0f0f0"/>
<text transform="translate(7.40 1651.70) scale(0.9966 1)" font-size="5.96" font-family='"Liberation Sans", sans-serif' font-weight="bold" fill="#000">Response: Log10(Photonic flux + 1.00)</text>
<text transform="translate(7.49 1661.80) scale(1.0632 1)" font-size="5.67" font-family='"Liberation Sans", sans-serif' font-weight="normal" fill="#303030">Color points by value:</text>
<text transform="translate(7.30 1670.30) scale(1.0532 1)" font-size="5.81" font-family='"Liberation Sans", sans-serif' font-weight="normal" fill="#303030">Photonic flux:</text>
<text transform="translate(7.58 1680.70) scale(0.9257 1)" font-size="6.10" font-family='"Liberation Sans", sans-serif' font-weight="normal" fill="#5a5aff">0.000</text>
<rect x="23.30" y="1674.50" width="22.30" height="8.80" rx="1.3" fill="url(#hg)" stroke="#000" stroke-width="0.9"/><rect x="23.30" y="1674.50" width="22.30" height="8.80" rx="1.3" fill="url(#vg)"/>
<text transform="translate(47.17 1680.70) scale(0.9730 1)" font-size="6.10" font-family='"Liberation Sans", sans-serif' font-weight="normal" fill="#ff5a5a">0.000</text>

<text transform="translate(566.22 1675.70) scale(0.9218 1)" font-size="23.55" font-family='"Liberation Sans", sans-serif' font-weight="normal" fill="#000">Normal Plot of Residuals</text>
<text transform="translate(558.38 2339.70) scale(0.9850 1)" font-size="17.59" font-family='"Liberation Sans", sans-serif' font-weight="normal" fill="#000">Externally Studentized Residuals</text>
<text transform="translate(308.70 2060.42) rotate(-90) scale(0.9718 1)" font-size="19.04" font-family='"Liberation Sans", sans-serif' fill="#000">Normal % Probability</text>
<rect x="397.90" y="1685.90" width="576.70" height="577.00" fill="none" stroke="#ffffff" stroke-opacity="0.85" stroke-width="4" stroke-linejoin="round"/>
<path d="M383.50 2185.45H390.90M383.50 2123.63H390.90M383.50 2090.67H390.90M383.50 2050.75H390.90M383.50 2021.98H390.90M383.50 1974.40H390.90M383.50 1926.82H390.90M383.50 1898.05H390.90M383.50 1858.13H390.90M383.50 1825.17H390.90M383.50 1763.35H390.90" stroke="#4a4a4a" stroke-width="1.50" fill="none"/>
<path d="M390.90 2185.45H397.90M390.90 2160.72H397.90M390.90 2145.03H397.90M390.90 2133.23H397.90M390.90 2123.63H397.90M390.90 2115.45H397.90M390.90 2108.29H397.90M390.90 2101.87H397.90M390.90 2096.04H397.90M390.90 2090.67H397.90M390.90 2085.67H397.90M390.90 2081.00H397.90M390.90 2076.59H397.90M390.90 2072.41H397.90M390.90 2068.43H397.90M390.90 2064.62H397.90M390.90 2060.96H397.90M390.90 2057.44H397.90M390.90 2054.05H397.90M390.90 2050.75H397.90M390.90 2047.56H397.90M390.90 2044.46H397.90M390.90 2041.43H397.90M390.90 2038.48H397.90M390.90 2035.59H397.90M390.90 2032.77H397.90M390.90 2030.00H397.90M390.90 2027.28H397.90M390.90 2024.60H397.90M390.90 2021.98H397.90M390.90 2019.39H397.90M390.90 2016.83H397.90M390.90 2014.31H397.90M390.90 2011.82H397.90M390.90 2009.36H397.90M390.90 2006.92H397.90M390.90 2004.51H397.90M390.90 2002.11H397.90M390.90 1999.74H397.90M390.90 1997.38H397.90M390.90 1995.04H397.90M390.90 1992.72H397.90M390.90 1990.40H397.90M390.90 1988.10H397.90M390.90 1985.80H397.90M390.90 1983.51H397.90M390.90 1981.23H397.90M390.90 1978.95H397.90M390.90 1976.67H397.90M390.90 1974.40H397.90M390.90 1972.13H397.90M390.90 1969.85H397.90M390.90 1967.57H397.90M390.90 1965.29H397.90M390.90 1963.00H397.90M390.90 1960.70H397.90M390.90 1958.40H397.90M390.90 1956.08H397.90M390.90 1953.76H397.90M390.90 1951.42H397.90M390.90 1949.06H397.90M390.90 1946.69H397.90M390.90 1944.29H397.90M390.90 1941.88H397.90M390.90 1939.44H397.90M390.90 1936.98H397.90M390.90 1934.49H397.90M390.90 1931.97H397.90M390.90 1929.41H397.90M390.90 1926.82H397.90M390.90 1924.20H397.90M390.90 1921.52H397.90M390.90 1918.80H397.90M390.90 1916.03H397.90M390.90 1913.21H397.90M390.90 1910.32H397.90M390.90 1907.37H397.90M390.90 1904.34H397.90M390.90 1901.24H397.90M390.90 1898.05H397.90M390.90 1894.75H397.90M390.90 1891.36H397.90M390.90 1887.84H397.90M390.90 1884.18H397.90M390.90 1880.37H397.90M390.90 1876.39H397.90M390.90 1872.21H397.90M390.90 1867.80H397.90M390.90 1863.13H397.90M390.90 1858.13H397.90M390.90 1852.76H397.90M390.90 1846.93H397.90M390.90 1840.51H397.90M390.90 1833.35H397.90M390.90 1825.17H397.90M390.90 1815.57H397.90M390.90 1803.77H397.90M390.90 1788.08H397.90M390.90 1763.35H397.90" stroke="#1e1e1e" stroke-width="1.50" fill="none"/>
<text transform="translate(371.42 2190.45) scale(0.9200 1)" font-size="14.54" font-family='"Liberation Sans", sans-serif' font-weight="normal" fill="#000">1</text>
<text transform="translate(371.32 2128.63) scale(0.9200 1)" font-size="14.54" font-family='"Liberation Sans", sans-serif' font-weight="normal" fill="#000">5</text>
<text transform="translate(363.85 2095.67) scale(0.9200 1)" font-size="14.54" font-family='"Liberation Sans", sans-serif' font-weight="normal" fill="#000">10</text>
<text transform="translate(363.85 2055.75) scale(0.9200 1)" font-size="14.54" font-family='"Liberation Sans", sans-serif' font-weight="normal" fill="#000">20</text>
<text transform="translate(363.85 2026.98) scale(0.9200 1)" font-size="14.54" font-family='"Liberation Sans", sans-serif' font-weight="normal" fill="#000">30</text>
<text transform="translate(363.85 1979.40) scale(0.9200 1)" font-size="14.54" font-family='"Liberation Sans", sans-serif' font-weight="normal" fill="#000">50</text>
<text transform="translate(363.85 1931.82) scale(0.9200 1)" font-size="14.54" font-family='"Liberation Sans", sans-serif' font-weight="normal" fill="#000">70</text>
<text transform="translate(363.85 1903.05) scale(0.9200 1)" font-size="14.54" font-family='"Liberation Sans", sans-serif' font-weight="normal" fill="#000">80</text>
<text transform="translate(363.85 1863.13) scale(0.9200 1)" font-size="14.54" font-family='"Liberation Sans", sans-serif' font-weight="normal" fill="#000">90</text>
<text transform="translate(363.89 1830.17) scale(0.9200 1)" font-size="14.54" font-family='"Liberation Sans", sans-serif' font-weight="normal" fill="#000">95</text>
<text transform="translate(363.96 1768.35) scale(0.9200 1)" font-size="14.54" font-family='"Liberation Sans", sans-serif' font-weight="normal" fill="#000">99</text>
<text transform="translate(411.20 2295.80) scale(0.9200 1)" font-size="14.54" font-family='"Liberation Sans", sans-serif' font-weight="normal" fill="#000">-3.00</text>
<text transform="translate(497.79 2295.80) scale(0.9200 1)" font-size="14.54" font-family='"Liberation Sans", sans-serif' font-weight="normal" fill="#000">-2.00</text>
<text transform="translate(584.38 2295.80) scale(0.9200 1)" font-size="14.54" font-family='"Liberation Sans", sans-serif' font-weight="normal" fill="#000">-1.00</text>
<text transform="translate(673.24 2295.80) scale(0.9200 1)" font-size="14.54" font-family='"Liberation Sans", sans-serif' font-weight="normal" fill="#000">0.00</text>
<text transform="translate(759.58 2295.80) scale(0.9200 1)" font-size="14.54" font-family='"Liberation Sans", sans-serif' font-weight="normal" fill="#000">1.00</text>
<text transform="translate(846.34 2295.80) scale(0.9200 1)" font-size="14.54" font-family='"Liberation Sans", sans-serif' font-weight="normal" fill="#000">2.00</text>
<text transform="translate(933.02 2295.80) scale(0.9200 1)" font-size="14.54" font-family='"Liberation Sans", sans-serif' font-weight="normal" fill="#000">3.00</text>
<path d="M426.48 2262.90V2277.10M513.07 2262.90V2277.10M599.66 2262.90V2277.10M686.25 2262.90V2277.10M772.84 2262.90V2277.10M859.43 2262.90V2277.10M946.02 2262.90V2277.10" stroke="#3a3a3a" stroke-width="1.50" fill="none"/>
<line x1="397.90" y1="2187.81" x2="974.60" y2="1760.99" stroke="#ff7d7d" stroke-width="3.20"/>
<circle cx="686.25" cy="1974.40" r="9.90" fill="#c06060" stroke="#1a1010" stroke-width="1.2"/>
<rect x="447.85" y="2140.44" width="15.30" height="15.30" fill="#0a0a0a"/><rect x="448.65" y="2141.24" width="13.70" height="13.70" fill="#0a0e62"/><rect x="449.75" y="2142.34" width="11.50" height="11.50" fill="#181e98"/><rect x="450.45" y="2143.04" width="10.10" height="10.10" fill="#141414"/><rect x="450.95" y="2143.54" width="9.10" height="9.10" fill="#ffffff"/>
<rect x="491.85" y="2092.22" width="15.30" height="15.30" fill="#0a0a0a"/><rect x="492.65" y="2093.02" width="13.70" height="13.70" fill="#0a0e62"/><rect x="493.75" y="2094.12" width="11.50" height="11.50" fill="#181e98"/><rect x="494.45" y="2094.82" width="10.10" height="10.10" fill="#141414"/><rect x="494.95" y="2095.32" width="9.10" height="9.10" fill="#ffffff"/>
<rect x="580.55" y="2065.21" width="15.30" height="15.30" fill="#0a0a0a"/><rect x="581.35" y="2066.01" width="13.70" height="13.70" fill="#0c2e70"/><rect x="582.45" y="2067.11" width="11.50" height="11.50" fill="#1b4cac"/><rect x="583.15" y="2067.81" width="10.10" height="10.10" fill="#141414"/><rect x="583.65" y="2068.31" width="9.10" height="9.10" fill="#ffffff"/>
<rect x="589.35" y="2044.92" width="15.30" height="15.30" fill="#0a0a0a"/><rect x="590.15" y="2045.72" width="13.70" height="13.70" fill="#0c4c6e"/><rect x="591.25" y="2046.82" width="11.50" height="11.50" fill="#1b78a9"/><rect x="591.95" y="2047.52" width="10.10" height="10.10" fill="#141414"/><rect x="592.45" y="2048.02" width="9.10" height="9.10" fill="#ffffff"/>
<rect x="602.35" y="2027.94" width="15.30" height="15.30" fill="#0a0a0a"/><rect x="603.15" y="2028.74" width="13.70" height="13.70" fill="#0c6c52"/><rect x="604.25" y="2029.84" width="11.50" height="11.50" fill="#1ba680"/><rect x="604.95" y="2030.54" width="10.10" height="10.10" fill="#141414"/><rect x="605.45" y="2031.04" width="9.10" height="9.10" fill="#ffffff"/>
<rect x="602.25" y="2012.88" width="15.30" height="15.30" fill="#0a0a0a"/><rect x="603.05" y="2013.68" width="13.70" height="13.70" fill="#346c0a"/><rect x="604.15" y="2014.78" width="11.50" height="11.50" fill="#55a618"/><rect x="604.85" y="2015.48" width="10.10" height="10.10" fill="#141414"/><rect x="605.35" y="2015.98" width="9.10" height="9.10" fill="#ffffff"/>
<rect x="607.85" y="1999.00" width="15.30" height="15.30" fill="#0a0a0a"/><rect x="608.65" y="1999.80" width="13.70" height="13.70" fill="#0c5e5e"/><rect x="609.75" y="2000.90" width="11.50" height="11.50" fill="#1b9292"/><rect x="610.45" y="2001.60" width="10.10" height="10.10" fill="#141414"/><rect x="610.95" y="2002.10" width="9.10" height="9.10" fill="#ffffff"/>
<rect x="652.35" y="1985.84" width="15.30" height="15.30" fill="#0a0a0a"/><rect x="653.15" y="1986.64" width="13.70" height="13.70" fill="#0e7414"/><rect x="654.25" y="1987.74" width="11.50" height="11.50" fill="#1eb227"/><rect x="654.95" y="1988.44" width="10.10" height="10.10" fill="#141414"/><rect x="655.45" y="1988.94" width="9.10" height="9.10" fill="#ffffff"/>
<rect x="660.65" y="1973.07" width="15.30" height="15.30" fill="#0a0a0a"/><rect x="661.45" y="1973.87" width="13.70" height="13.70" fill="#0e7414"/><rect x="662.55" y="1974.97" width="11.50" height="11.50" fill="#1eb227"/><rect x="663.25" y="1975.67" width="10.10" height="10.10" fill="#141414"/><rect x="663.75" y="1976.17" width="9.10" height="9.10" fill="#ffffff"/>
<rect x="696.45" y="1960.43" width="15.30" height="15.30" fill="#0a0a0a"/><rect x="697.25" y="1961.23" width="13.70" height="13.70" fill="#0e7414"/><rect x="698.35" y="1962.33" width="11.50" height="11.50" fill="#1eb227"/><rect x="699.05" y="1963.03" width="10.10" height="10.10" fill="#141414"/><rect x="699.55" y="1963.53" width="9.10" height="9.10" fill="#ffffff"/>
<rect x="720.65" y="1947.66" width="15.30" height="15.30" fill="#0a0a0a"/><rect x="721.45" y="1948.46" width="13.70" height="13.70" fill="#646410"/><rect x="722.55" y="1949.56" width="11.50" height="11.50" fill="#9b9b21"/><rect x="723.25" y="1950.26" width="10.10" height="10.10" fill="#141414"/><rect x="723.75" y="1950.76" width="9.10" height="9.10" fill="#ffffff"/>
<rect x="737.35" y="1934.50" width="15.30" height="15.30" fill="#0a0a0a"/><rect x="738.15" y="1935.30" width="13.70" height="13.70" fill="#64520c"/><rect x="739.25" y="1936.40" width="11.50" height="11.50" fill="#9b801b"/><rect x="739.95" y="1937.10" width="10.10" height="10.10" fill="#141414"/><rect x="740.45" y="1937.60" width="9.10" height="9.10" fill="#ffffff"/>
<rect x="754.45" y="1920.62" width="15.30" height="15.30" fill="#0a0a0a"/><rect x="755.25" y="1921.42" width="13.70" height="13.70" fill="#527010"/><rect x="756.35" y="1922.52" width="11.50" height="11.50" fill="#80ac21"/><rect x="757.05" y="1923.22" width="10.10" height="10.10" fill="#141414"/><rect x="757.55" y="1923.72" width="9.10" height="9.10" fill="#ffffff"/>
<rect x="754.45" y="1905.56" width="15.30" height="15.30" fill="#0a0a0a"/><rect x="755.25" y="1906.36" width="13.70" height="13.70" fill="#644810"/><rect x="756.35" y="1907.46" width="11.50" height="11.50" fill="#9b7221"/><rect x="757.05" y="1908.16" width="10.10" height="10.10" fill="#141414"/><rect x="757.55" y="1908.66" width="9.10" height="9.10" fill="#ffffff"/>
<rect x="761.25" y="1888.58" width="15.30" height="15.30" fill="#0a0a0a"/><rect x="762.05" y="1889.38" width="13.70" height="13.70" fill="#5a3810"/><rect x="763.15" y="1890.48" width="11.50" height="11.50" fill="#8c5b21"/><rect x="763.85" y="1891.18" width="10.10" height="10.10" fill="#141414"/><rect x="764.35" y="1891.68" width="9.10" height="9.10" fill="#ffffff"/>
<rect x="776.35" y="1868.29" width="15.30" height="15.30" fill="#0a0a0a"/><rect x="777.15" y="1869.09" width="13.70" height="13.70" fill="#560404"/><rect x="778.25" y="1870.19" width="11.50" height="11.50" fill="#860f0f"/><rect x="778.95" y="1870.89" width="10.10" height="10.10" fill="#141414"/><rect x="779.45" y="1871.39" width="9.10" height="9.10" fill="#ffffff"/>
<rect x="865.05" y="1841.28" width="15.30" height="15.30" fill="#0a0a0a"/><rect x="865.85" y="1842.08" width="13.70" height="13.70" fill="#461006"/><rect x="866.95" y="1843.18" width="11.50" height="11.50" fill="#6f2112"/><rect x="867.65" y="1843.88" width="10.10" height="10.10" fill="#141414"/><rect x="868.15" y="1844.38" width="9.10" height="9.10" fill="#ffffff"/>
<rect x="909.05" y="1793.06" width="15.30" height="15.30" fill="#0a0a0a"/><rect x="909.85" y="1793.86" width="13.70" height="13.70" fill="#0c6a34"/><rect x="910.95" y="1794.96" width="11.50" height="11.50" fill="#1ba355"/><rect x="911.65" y="1795.66" width="10.10" height="10.10" fill="#141414"/><rect x="912.15" y="1796.16" width="9.10" height="9.10" fill="#ffffff"/>
<rect x="397.90" y="1685.90" width="576.70" height="577.00" fill="none" stroke="#4a4a4a" stroke-width="1.9" stroke-linejoin="round"/>
<text x="16.11" y="136.60" font-size="43.0" font-family='"Liberation Serif", serif' font-weight="bold">a</text>
<text x="16.95" y="954.70" font-size="43.0" font-family='"Liberation Serif", serif' font-weight="bold">b</text>
<text x="16.03" y="1788.00" font-size="43.0" font-family='"Liberation Serif", serif' font-weight="bold">c</text>
</svg>
</body></html>
